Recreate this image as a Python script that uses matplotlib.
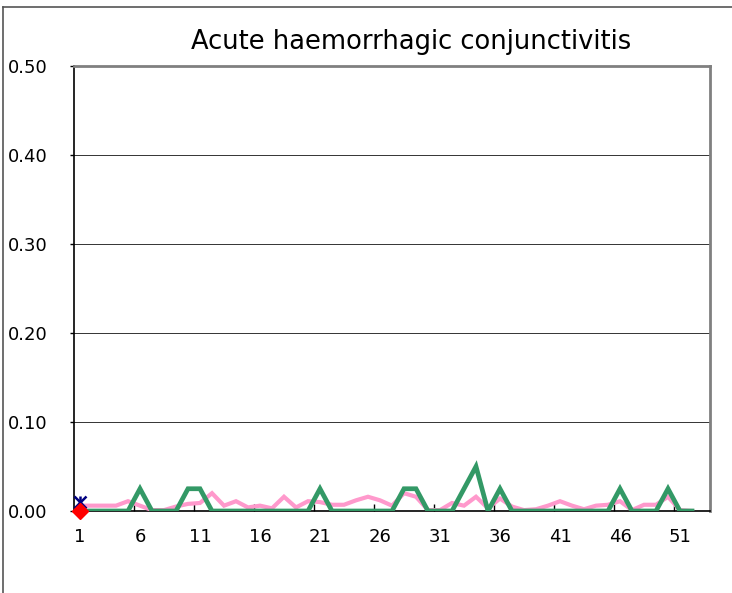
import matplotlib
matplotlib.use("Agg")
import matplotlib.pyplot as plt
from matplotlib.lines import Line2D
import numpy as np

title = "Acute haemorrhagic conjunctivitis"
weeks = list(range(1, 53))
current = [0, 0, 0, 0, 0, 0.025, 0, 0, 0, 0.025,
           0.025, 0, 0, 0, 0, 0, 0, 0, 0, 0,
           0.025, 0, 0, 0, 0, 0, 0, 0.025, 0.025, 0,
           0, 0, 0.025, 0.05, 0, 0.025, 0, 0, 0, 0,
           0, 0, 0, 0, 0, 0.025, 0, 0, 0, 0.025,
           0, 0]
average = [0.006, 0.006, 0.006, 0.006, 0.011, 0.006, 0.001, 0.001, 0.005, 0.008,
           0.009, 0.02, 0.006, 0.011, 0.004, 0.006, 0.003, 0.016, 0.004, 0.011,
           0.01, 0.007, 0.007, 0.012, 0.016, 0.012, 0.006, 0.02, 0.016, 0.001,
           0.001, 0.009, 0.006, 0.016, 0.003, 0.014, 0.005, 0.001, 0.002, 0.006,
           0.011, 0.006, 0.002, 0.006, 0.007, 0.011, 0.001, 0.007, 0.007, 0.016,
           0.001, 0.0]
marker_x = [1]
upper_vals = [0.01]
lower_vals = [0.0]
yticks = [0.0, 0.1, 0.2, 0.3, 0.4, 0.5]
xtick_vals = list(range(1, 53, 5))

fig = plt.figure(figsize=(7.32, 5.93), dpi=100)
ax = fig.add_axes([74/732, (593-511)/593, 636/732, 445/593])

ax.plot(weeks, average, color="#FF99CC", lw=3.0, solid_joinstyle="miter", zorder=3)
ax.plot(weeks, current, color="#339966", lw=3.4, solid_joinstyle="miter", zorder=4)
ax.plot(marker_x, upper_vals, ls="none", marker="x", ms=9, mew=1.8, color="#000080", zorder=5, clip_on=False)
ax.plot(marker_x, upper_vals, ls="none", marker="|", ms=9, mew=1.8, color="#000080", zorder=5, clip_on=False)
ax.plot(marker_x, lower_vals, ls="none", marker="D", ms=8, color="#FF0000", zorder=6, clip_on=False)

ax.set_xlim(0.5, 53.5)
ax.set_ylim(0, 0.5)
ax.set_yticks(yticks)
ax.set_xticks(xtick_vals)
ax.set_xticklabels([str(v) for v in xtick_vals])
ax.set_xticks([x + 4.5 for x in xtick_vals if x + 4.5 < 53], minor=True)

ax.grid(axis="y", color="#333333", lw=0.7)
ax.set_axisbelow(True)

ax.tick_params(axis="x", which="major", length=0, pad=12, labelsize=13)
ax.tick_params(axis="x", which="minor", direction="in", length=5, width=1, color="black")
ax.tick_params(axis="y", which="major", direction="out", length=3, width=1, pad=44.5, labelsize=13)
ax.set_yticklabels([f"{v:.2f}" for v in yticks], ha="left")

for s in ["left", "bottom"]:
    ax.spines[s].set_color("black")
    ax.spines[s].set_linewidth(1.2)
for s in ["top", "right"]:
    ax.spines[s].set_color("#808080")
    ax.spines[s].set_linewidth(2)

fig.text(411/732, 1 - 42/593, title, ha="center", va="center", fontsize=18.5)

fig.add_artist(Line2D([3/732, 3/732], [0, 1 - 7/593], color="#555555", lw=1.2, transform=fig.transFigure))
fig.add_artist(Line2D([3/732, 1], [1 - 7/593, 1 - 7/593], color="#555555", lw=1.2, transform=fig.transFigure))

fig.savefig("out.png", dpi=100)
